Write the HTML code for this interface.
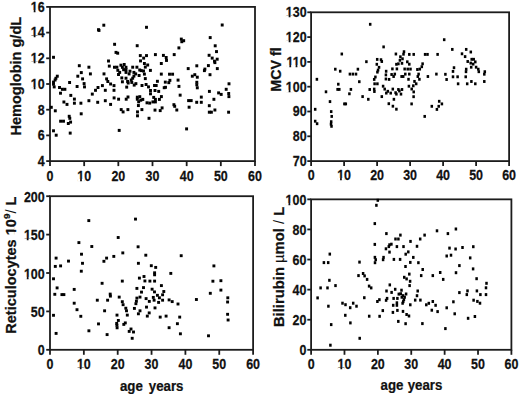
<!DOCTYPE html>
<html><head><meta charset="utf-8"><title>Hematology scatter plots by age</title><style>
html,body{margin:0;padding:0;background:#fff;}
svg{display:block;}
.tk{font-family:"Liberation Sans",sans-serif;font-weight:bold;font-size:14px;fill:#111;stroke:#111;stroke-width:0.25px;}
.al{font-family:"Liberation Sans",sans-serif;font-weight:bold;fill:#111;stroke:#111;stroke-width:0.25px;}
</style></head><body>
<svg width="520" height="396" viewBox="0 0 520 396">
<rect x="0" y="0" width="520" height="396" fill="#fff"/>
<g stroke="#1c1c1c" stroke-width="1.8" fill="none">
<rect x="50.00" y="6.90" width="205.00" height="154.20"/>
<line x1="46.20" y1="161.10" x2="50.00" y2="161.10"/>
<line x1="46.20" y1="135.40" x2="50.00" y2="135.40"/>
<line x1="46.20" y1="109.70" x2="50.00" y2="109.70"/>
<line x1="46.20" y1="84.00" x2="50.00" y2="84.00"/>
<line x1="46.20" y1="58.30" x2="50.00" y2="58.30"/>
<line x1="46.20" y1="32.60" x2="50.00" y2="32.60"/>
<line x1="46.20" y1="6.90" x2="50.00" y2="6.90"/>
<line x1="50.00" y1="161.10" x2="50.00" y2="166.10"/>
<line x1="84.17" y1="161.10" x2="84.17" y2="166.10"/>
<line x1="118.33" y1="161.10" x2="118.33" y2="166.10"/>
<line x1="152.50" y1="161.10" x2="152.50" y2="166.10"/>
<line x1="186.67" y1="161.10" x2="186.67" y2="166.10"/>
<line x1="220.83" y1="161.10" x2="220.83" y2="166.10"/>
<line x1="255.00" y1="161.10" x2="255.00" y2="166.10"/>
<rect x="311.10" y="12.30" width="198.00" height="148.80"/>
<line x1="307.30" y1="161.10" x2="311.10" y2="161.10"/>
<line x1="307.30" y1="136.30" x2="311.10" y2="136.30"/>
<line x1="307.30" y1="111.50" x2="311.10" y2="111.50"/>
<line x1="307.30" y1="86.70" x2="311.10" y2="86.70"/>
<line x1="307.30" y1="61.90" x2="311.10" y2="61.90"/>
<line x1="307.30" y1="37.10" x2="311.10" y2="37.10"/>
<line x1="307.30" y1="12.30" x2="311.10" y2="12.30"/>
<line x1="311.10" y1="161.10" x2="311.10" y2="166.10"/>
<line x1="344.10" y1="161.10" x2="344.10" y2="166.10"/>
<line x1="377.10" y1="161.10" x2="377.10" y2="166.10"/>
<line x1="410.10" y1="161.10" x2="410.10" y2="166.10"/>
<line x1="443.10" y1="161.10" x2="443.10" y2="166.10"/>
<line x1="476.10" y1="161.10" x2="476.10" y2="166.10"/>
<line x1="509.10" y1="161.10" x2="509.10" y2="166.10"/>
<rect x="50.00" y="196.20" width="203.10" height="153.60"/>
<line x1="46.20" y1="349.80" x2="50.00" y2="349.80"/>
<line x1="46.20" y1="311.40" x2="50.00" y2="311.40"/>
<line x1="46.20" y1="273.00" x2="50.00" y2="273.00"/>
<line x1="46.20" y1="234.60" x2="50.00" y2="234.60"/>
<line x1="46.20" y1="196.20" x2="50.00" y2="196.20"/>
<line x1="50.00" y1="349.80" x2="50.00" y2="354.80"/>
<line x1="83.85" y1="349.80" x2="83.85" y2="354.80"/>
<line x1="117.70" y1="349.80" x2="117.70" y2="354.80"/>
<line x1="151.55" y1="349.80" x2="151.55" y2="354.80"/>
<line x1="185.40" y1="349.80" x2="185.40" y2="354.80"/>
<line x1="219.25" y1="349.80" x2="219.25" y2="354.80"/>
<line x1="253.10" y1="349.80" x2="253.10" y2="354.80"/>
<rect x="311.10" y="199.35" width="200.30" height="150.45"/>
<line x1="307.30" y1="349.80" x2="311.10" y2="349.80"/>
<line x1="307.30" y1="319.71" x2="311.10" y2="319.71"/>
<line x1="307.30" y1="289.62" x2="311.10" y2="289.62"/>
<line x1="307.30" y1="259.53" x2="311.10" y2="259.53"/>
<line x1="307.30" y1="229.44" x2="311.10" y2="229.44"/>
<line x1="307.30" y1="199.35" x2="311.10" y2="199.35"/>
<line x1="311.10" y1="349.80" x2="311.10" y2="354.80"/>
<line x1="344.48" y1="349.80" x2="344.48" y2="354.80"/>
<line x1="377.87" y1="349.80" x2="377.87" y2="354.80"/>
<line x1="411.25" y1="349.80" x2="411.25" y2="354.80"/>
<line x1="444.63" y1="349.80" x2="444.63" y2="354.80"/>
<line x1="478.02" y1="349.80" x2="478.02" y2="354.80"/>
<line x1="511.40" y1="349.80" x2="511.40" y2="354.80"/>
</g>
<g>
<text class="tk" transform="translate(44.70,165.95) scale(0.89,1)" text-anchor="end">4</text>
<text class="tk" transform="translate(44.70,140.25) scale(0.89,1)" text-anchor="end">6</text>
<text class="tk" transform="translate(44.70,114.55) scale(0.89,1)" text-anchor="end">8</text>
<text class="tk" transform="translate(44.70,88.85) scale(0.89,1)" text-anchor="end">10</text>
<text class="tk" transform="translate(44.70,63.15) scale(0.89,1)" text-anchor="end">12</text>
<text class="tk" transform="translate(44.70,37.45) scale(0.89,1)" text-anchor="end">14</text>
<text class="tk" transform="translate(44.70,11.75) scale(0.89,1)" text-anchor="end">16</text>
<text class="tk" transform="translate(50.00,180.70) scale(0.89,1)" text-anchor="middle">0</text>
<text class="tk" transform="translate(84.17,180.70) scale(0.89,1)" text-anchor="middle">10</text>
<text class="tk" transform="translate(118.33,180.70) scale(0.89,1)" text-anchor="middle">20</text>
<text class="tk" transform="translate(152.50,180.70) scale(0.89,1)" text-anchor="middle">30</text>
<text class="tk" transform="translate(186.67,180.70) scale(0.89,1)" text-anchor="middle">40</text>
<text class="tk" transform="translate(220.83,180.70) scale(0.89,1)" text-anchor="middle">50</text>
<text class="tk" transform="translate(255.00,180.70) scale(0.89,1)" text-anchor="middle">60</text>
<text class="tk" transform="translate(306.60,165.95) scale(0.89,1)" text-anchor="end">70</text>
<text class="tk" transform="translate(306.60,141.15) scale(0.89,1)" text-anchor="end">80</text>
<text class="tk" transform="translate(306.60,116.35) scale(0.89,1)" text-anchor="end">90</text>
<text class="tk" transform="translate(306.60,91.55) scale(0.89,1)" text-anchor="end">100</text>
<text class="tk" transform="translate(306.60,66.75) scale(0.89,1)" text-anchor="end">110</text>
<text class="tk" transform="translate(306.60,41.95) scale(0.89,1)" text-anchor="end">120</text>
<text class="tk" transform="translate(306.60,17.15) scale(0.89,1)" text-anchor="end">130</text>
<text class="tk" transform="translate(311.10,179.70) scale(0.89,1)" text-anchor="middle">0</text>
<text class="tk" transform="translate(344.10,179.70) scale(0.89,1)" text-anchor="middle">10</text>
<text class="tk" transform="translate(377.10,179.70) scale(0.89,1)" text-anchor="middle">20</text>
<text class="tk" transform="translate(410.10,179.70) scale(0.89,1)" text-anchor="middle">30</text>
<text class="tk" transform="translate(443.10,179.70) scale(0.89,1)" text-anchor="middle">40</text>
<text class="tk" transform="translate(476.10,179.70) scale(0.89,1)" text-anchor="middle">50</text>
<text class="tk" transform="translate(509.10,179.70) scale(0.89,1)" text-anchor="middle">60</text>
<text class="tk" transform="translate(44.70,355.45) scale(0.89,1)" text-anchor="end">0</text>
<text class="tk" transform="translate(44.70,317.05) scale(0.89,1)" text-anchor="end">50</text>
<text class="tk" transform="translate(44.70,278.65) scale(0.89,1)" text-anchor="end">100</text>
<text class="tk" transform="translate(44.70,240.25) scale(0.89,1)" text-anchor="end">150</text>
<text class="tk" transform="translate(44.70,201.85) scale(0.89,1)" text-anchor="end">200</text>
<text class="tk" transform="translate(50.00,369.40) scale(0.89,1)" text-anchor="middle">0</text>
<text class="tk" transform="translate(83.85,369.40) scale(0.89,1)" text-anchor="middle">10</text>
<text class="tk" transform="translate(117.70,369.40) scale(0.89,1)" text-anchor="middle">20</text>
<text class="tk" transform="translate(151.55,369.40) scale(0.89,1)" text-anchor="middle">30</text>
<text class="tk" transform="translate(185.40,369.40) scale(0.89,1)" text-anchor="middle">40</text>
<text class="tk" transform="translate(219.25,369.40) scale(0.89,1)" text-anchor="middle">50</text>
<text class="tk" transform="translate(253.10,369.40) scale(0.89,1)" text-anchor="middle">60</text>
<text class="tk" transform="translate(306.40,355.15) scale(0.89,1)" text-anchor="end">0</text>
<text class="tk" transform="translate(306.40,325.06) scale(0.89,1)" text-anchor="end">20</text>
<text class="tk" transform="translate(306.40,294.97) scale(0.89,1)" text-anchor="end">40</text>
<text class="tk" transform="translate(306.40,264.88) scale(0.89,1)" text-anchor="end">60</text>
<text class="tk" transform="translate(306.40,234.79) scale(0.89,1)" text-anchor="end">80</text>
<text class="tk" transform="translate(306.40,204.70) scale(0.89,1)" text-anchor="end">100</text>
<text class="tk" transform="translate(311.10,369.40) scale(0.89,1)" text-anchor="middle">0</text>
<text class="tk" transform="translate(344.48,369.40) scale(0.89,1)" text-anchor="middle">10</text>
<text class="tk" transform="translate(377.87,369.40) scale(0.89,1)" text-anchor="middle">20</text>
<text class="tk" transform="translate(411.25,369.40) scale(0.89,1)" text-anchor="middle">30</text>
<text class="tk" transform="translate(444.63,369.40) scale(0.89,1)" text-anchor="middle">40</text>
<text class="tk" transform="translate(478.02,369.40) scale(0.89,1)" text-anchor="middle">50</text>
<text class="tk" transform="translate(511.40,369.40) scale(0.89,1)" text-anchor="middle">60</text>
<text class="al" font-size="14.7" transform="translate(21.3,76.2) rotate(-90) scale(0.99,1)" text-anchor="middle">Hemoglobin g/dL</text>
<text class="al" font-size="13.8" transform="translate(280.9,69.55) rotate(-90) scale(1.035,1)" text-anchor="middle">MCV fl</text>
<text class="al" font-size="14.2" transform="translate(15.9,265.15) rotate(-90) scale(1.023,1)" text-anchor="middle">Reticulocytes 10<tspan font-size="9.8" dy="-6.3">9</tspan><tspan dy="6.3" font-weight="normal" stroke-width="0">/</tspan> L</text>
<text class="al" font-size="14.8" transform="translate(283.5,266.9) rotate(-90) scale(1.0,1)" text-anchor="middle">Bilirubin <tspan font-weight="normal" stroke-width="0.15">µ</tspan>mol <tspan font-weight="normal" stroke-width="0">/</tspan> L</text>
<text class="al" font-size="15" transform="translate(119.95,391.2) scale(0.885,1)">age</text>
<text class="al" font-size="15" transform="translate(148.81,391.2) scale(0.885,1)">years</text>
<text class="al" font-size="15" transform="translate(380.55,390.4) scale(0.885,1)">age</text>
<text class="al" font-size="15" transform="translate(407.71,390.4) scale(0.885,1)">years</text>
</g>
<g fill="#fff">
<rect x="30.84" y="87.12" width="2.87" height="2.93"/>
<rect x="35.49" y="87.12" width="2.52" height="2.93"/>
<rect x="30.84" y="61.42" width="2.87" height="2.93"/>
<rect x="35.49" y="61.42" width="2.52" height="2.93"/>
<rect x="30.84" y="35.72" width="2.87" height="2.93"/>
<rect x="35.49" y="35.72" width="2.52" height="2.93"/>
<rect x="30.84" y="10.02" width="2.87" height="2.93"/>
<rect x="35.49" y="10.02" width="2.52" height="2.93"/>
<rect x="77.24" y="178.97" width="2.87" height="2.93"/>
<rect x="81.89" y="178.97" width="2.52" height="2.93"/>
<rect x="285.81" y="89.82" width="2.87" height="2.93"/>
<rect x="290.47" y="89.82" width="2.52" height="2.93"/>
<rect x="286.50" y="65.02" width="2.87" height="2.93"/>
<rect x="291.15" y="65.02" width="2.52" height="2.93"/>
<rect x="292.74" y="65.02" width="2.87" height="2.93"/>
<rect x="297.39" y="65.02" width="2.52" height="2.93"/>
<rect x="285.81" y="40.22" width="2.87" height="2.93"/>
<rect x="290.47" y="40.22" width="2.52" height="2.93"/>
<rect x="285.81" y="15.42" width="2.87" height="2.93"/>
<rect x="290.47" y="15.42" width="2.52" height="2.93"/>
<rect x="337.17" y="177.97" width="2.87" height="2.93"/>
<rect x="341.82" y="177.97" width="2.52" height="2.93"/>
<rect x="23.91" y="276.92" width="2.87" height="2.93"/>
<rect x="28.57" y="276.92" width="2.52" height="2.93"/>
<rect x="23.91" y="238.52" width="2.87" height="2.93"/>
<rect x="28.57" y="238.52" width="2.52" height="2.93"/>
<rect x="76.92" y="367.67" width="2.87" height="2.93"/>
<rect x="81.57" y="367.67" width="2.52" height="2.93"/>
<rect x="285.61" y="202.97" width="2.87" height="2.93"/>
<rect x="290.27" y="202.97" width="2.52" height="2.93"/>
<rect x="337.55" y="367.67" width="2.87" height="2.93"/>
<rect x="342.21" y="367.67" width="2.52" height="2.93"/>
<rect transform="translate(15.9,265.15) rotate(-90) scale(1.023,1)" x="29.21" y="-1.75" width="3.27" height="2.95"/>
<rect transform="translate(15.9,265.15) rotate(-90) scale(1.023,1)" x="34.51" y="-1.75" width="2.88" height="2.95"/>
</g>
<g fill="#000">
<rect x="102.35" y="23.70" width="2.9" height="3.0"/>
<rect x="113.15" y="42.80" width="2.9" height="3.0"/>
<rect x="114.55" y="50.90" width="2.9" height="3.0"/>
<rect x="116.25" y="51.70" width="2.9" height="3.0"/>
<rect x="52.05" y="55.80" width="2.9" height="3.0"/>
<rect x="145.05" y="25.80" width="2.9" height="3.0"/>
<rect x="135.75" y="44.20" width="2.9" height="3.0"/>
<rect x="179.85" y="37.60" width="2.9" height="3.0"/>
<rect x="180.35" y="40.20" width="2.9" height="3.0"/>
<rect x="177.45" y="46.40" width="2.9" height="3.0"/>
<rect x="172.75" y="53.10" width="2.9" height="3.0"/>
<rect x="153.95" y="53.10" width="2.9" height="3.0"/>
<rect x="161.95" y="53.90" width="2.9" height="3.0"/>
<rect x="164.75" y="56.00" width="2.9" height="3.0"/>
<rect x="165.05" y="58.93" width="2.9" height="3.0"/>
<rect x="138.85" y="54.10" width="2.9" height="3.0"/>
<rect x="142.20" y="56.60" width="2.9" height="3.0"/>
<rect x="145.05" y="54.10" width="2.9" height="3.0"/>
<rect x="139.08" y="59.40" width="2.9" height="3.0"/>
<rect x="220.75" y="23.50" width="2.9" height="3.0"/>
<rect x="208.75" y="36.10" width="2.9" height="3.0"/>
<rect x="182.25" y="39.20" width="2.9" height="3.0"/>
<rect x="213.75" y="44.30" width="2.9" height="3.0"/>
<rect x="215.05" y="50.10" width="2.9" height="3.0"/>
<rect x="207.65" y="53.80" width="2.9" height="3.0"/>
<rect x="210.75" y="56.60" width="2.9" height="3.0"/>
<rect x="215.75" y="57.70" width="2.9" height="3.0"/>
<rect x="213.05" y="59.70" width="2.9" height="3.0"/>
<rect x="107.05" y="59.50" width="2.9" height="3.0"/>
<rect x="107.85" y="64.60" width="2.9" height="3.0"/>
<rect x="113.00" y="65.75" width="2.9" height="3.0"/>
<rect x="77.85" y="64.20" width="2.9" height="3.0"/>
<rect x="87.45" y="65.70" width="2.9" height="3.0"/>
<rect x="79.85" y="71.10" width="2.9" height="3.0"/>
<rect x="88.95" y="72.40" width="2.9" height="3.0"/>
<rect x="102.55" y="72.40" width="2.9" height="3.0"/>
<rect x="76.35" y="74.70" width="2.9" height="3.0"/>
<rect x="81.15" y="77.40" width="2.9" height="3.0"/>
<rect x="55.85" y="74.70" width="2.9" height="3.0"/>
<rect x="54.45" y="76.80" width="2.9" height="3.0"/>
<rect x="53.65" y="78.50" width="2.9" height="3.0"/>
<rect x="52.05" y="80.60" width="2.9" height="3.0"/>
<rect x="52.05" y="82.70" width="2.9" height="3.0"/>
<rect x="52.75" y="85.40" width="2.9" height="3.0"/>
<rect x="68.15" y="81.00" width="2.9" height="3.0"/>
<rect x="82.65" y="82.10" width="2.9" height="3.0"/>
<rect x="83.05" y="85.40" width="2.9" height="3.0"/>
<rect x="75.65" y="85.00" width="2.9" height="3.0"/>
<rect x="105.15" y="77.40" width="2.9" height="3.0"/>
<rect x="106.35" y="80.00" width="2.9" height="3.0"/>
<rect x="109.15" y="82.50" width="2.9" height="3.0"/>
<rect x="100.95" y="84.10" width="2.9" height="3.0"/>
<rect x="96.55" y="86.00" width="2.9" height="3.0"/>
<rect x="94.05" y="88.80" width="2.9" height="3.0"/>
<rect x="103.85" y="88.80" width="2.9" height="3.0"/>
<rect x="112.55" y="84.10" width="2.9" height="3.0"/>
<rect x="112.55" y="88.80" width="2.9" height="3.0"/>
<rect x="58.05" y="86.00" width="2.9" height="3.0"/>
<rect x="60.95" y="87.80" width="2.9" height="3.0"/>
<rect x="63.45" y="87.80" width="2.9" height="3.0"/>
<rect x="59.05" y="91.70" width="2.9" height="3.0"/>
<rect x="69.35" y="93.90" width="2.9" height="3.0"/>
<rect x="90.85" y="92.60" width="2.9" height="3.0"/>
<rect x="72.95" y="97.60" width="2.9" height="3.0"/>
<rect x="112.65" y="96.40" width="2.9" height="3.0"/>
<rect x="62.45" y="100.50" width="2.9" height="3.0"/>
<rect x="65.55" y="102.90" width="2.9" height="3.0"/>
<rect x="72.95" y="101.70" width="2.9" height="3.0"/>
<rect x="79.45" y="101.70" width="2.9" height="3.0"/>
<rect x="87.45" y="99.20" width="2.9" height="3.0"/>
<rect x="96.25" y="100.80" width="2.9" height="3.0"/>
<rect x="103.85" y="99.20" width="2.9" height="3.0"/>
<rect x="109.15" y="102.90" width="2.9" height="3.0"/>
<rect x="49.85" y="105.80" width="2.9" height="3.0"/>
<rect x="53.85" y="109.30" width="2.9" height="3.0"/>
<rect x="115.45" y="65.70" width="2.9" height="3.0"/>
<rect x="116.35" y="68.80" width="2.9" height="3.0"/>
<rect x="119.45" y="63.70" width="2.9" height="3.0"/>
<rect x="122.75" y="63.00" width="2.9" height="3.0"/>
<rect x="120.95" y="65.80" width="2.9" height="3.0"/>
<rect x="124.55" y="65.80" width="2.9" height="3.0"/>
<rect x="122.15" y="68.20" width="2.9" height="3.0"/>
<rect x="124.55" y="68.20" width="2.9" height="3.0"/>
<rect x="118.25" y="70.90" width="2.9" height="3.0"/>
<rect x="117.05" y="73.00" width="2.9" height="3.0"/>
<rect x="124.55" y="70.90" width="2.9" height="3.0"/>
<rect x="127.65" y="72.40" width="2.9" height="3.0"/>
<rect x="128.55" y="69.70" width="2.9" height="3.0"/>
<rect x="131.25" y="65.70" width="2.9" height="3.0"/>
<rect x="135.45" y="65.70" width="2.9" height="3.0"/>
<rect x="138.25" y="68.50" width="2.9" height="3.0"/>
<rect x="139.75" y="69.10" width="2.9" height="3.0"/>
<rect x="132.45" y="70.90" width="2.9" height="3.0"/>
<rect x="134.25" y="72.40" width="2.9" height="3.0"/>
<rect x="137.65" y="74.00" width="2.9" height="3.0"/>
<rect x="132.45" y="74.60" width="2.9" height="3.0"/>
<rect x="120.35" y="76.40" width="2.9" height="3.0"/>
<rect x="124.55" y="76.70" width="2.9" height="3.0"/>
<rect x="129.75" y="78.50" width="2.9" height="3.0"/>
<rect x="131.25" y="76.70" width="2.9" height="3.0"/>
<rect x="120.95" y="80.30" width="2.9" height="3.0"/>
<rect x="126.15" y="79.95" width="2.9" height="3.0"/>
<rect x="126.75" y="81.50" width="2.9" height="3.0"/>
<rect x="130.35" y="80.90" width="2.9" height="3.0"/>
<rect x="134.45" y="82.15" width="2.9" height="3.0"/>
<rect x="142.95" y="62.00" width="2.9" height="3.0"/>
<rect x="146.25" y="63.50" width="2.9" height="3.0"/>
<rect x="143.85" y="65.60" width="2.9" height="3.0"/>
<rect x="148.95" y="68.90" width="2.9" height="3.0"/>
<rect x="142.05" y="69.50" width="2.9" height="3.0"/>
<rect x="142.95" y="72.60" width="2.9" height="3.0"/>
<rect x="143.85" y="77.10" width="2.9" height="3.0"/>
<rect x="159.85" y="62.00" width="2.9" height="3.0"/>
<rect x="159.85" y="72.60" width="2.9" height="3.0"/>
<rect x="155.95" y="79.80" width="2.9" height="3.0"/>
<rect x="163.85" y="80.63" width="2.9" height="3.0"/>
<rect x="140.55" y="84.00" width="2.9" height="3.0"/>
<rect x="144.65" y="83.00" width="2.9" height="3.0"/>
<rect x="147.05" y="85.40" width="2.9" height="3.0"/>
<rect x="153.05" y="84.00" width="2.9" height="3.0"/>
<rect x="154.75" y="84.00" width="2.9" height="3.0"/>
<rect x="167.35" y="81.15" width="2.9" height="3.0"/>
<rect x="168.45" y="78.85" width="2.9" height="3.0"/>
<rect x="176.60" y="78.60" width="2.9" height="3.0"/>
<rect x="162.75" y="86.20" width="2.9" height="3.0"/>
<rect x="177.50" y="84.90" width="2.9" height="3.0"/>
<rect x="149.05" y="89.00" width="2.9" height="3.0"/>
<rect x="149.05" y="92.30" width="2.9" height="3.0"/>
<rect x="153.55" y="89.00" width="2.9" height="3.0"/>
<rect x="157.25" y="89.90" width="2.9" height="3.0"/>
<rect x="159.95" y="95.10" width="2.9" height="3.0"/>
<rect x="157.95" y="97.90" width="2.9" height="3.0"/>
<rect x="152.25" y="95.90" width="2.9" height="3.0"/>
<rect x="153.95" y="97.90" width="2.9" height="3.0"/>
<rect x="151.45" y="100.40" width="2.9" height="3.0"/>
<rect x="153.95" y="100.40" width="2.9" height="3.0"/>
<rect x="145.55" y="101.30" width="2.9" height="3.0"/>
<rect x="148.25" y="101.60" width="2.9" height="3.0"/>
<rect x="141.35" y="97.90" width="2.9" height="3.0"/>
<rect x="139.35" y="98.70" width="2.9" height="3.0"/>
<rect x="172.45" y="103.20" width="2.9" height="3.0"/>
<rect x="173.25" y="104.80" width="2.9" height="3.0"/>
<rect x="178.70" y="93.65" width="2.9" height="3.0"/>
<rect x="160.65" y="106.40" width="2.9" height="3.0"/>
<rect x="186.75" y="67.10" width="2.9" height="3.0"/>
<rect x="195.35" y="64.30" width="2.9" height="3.0"/>
<rect x="206.95" y="64.10" width="2.9" height="3.0"/>
<rect x="203.45" y="67.60" width="2.9" height="3.0"/>
<rect x="202.95" y="69.10" width="2.9" height="3.0"/>
<rect x="168.05" y="72.70" width="2.9" height="3.0"/>
<rect x="171.15" y="72.70" width="2.9" height="3.0"/>
<rect x="208.55" y="73.20" width="2.9" height="3.0"/>
<rect x="190.85" y="74.70" width="2.9" height="3.0"/>
<rect x="193.35" y="73.20" width="2.9" height="3.0"/>
<rect x="195.85" y="75.70" width="2.9" height="3.0"/>
<rect x="195.35" y="80.80" width="2.9" height="3.0"/>
<rect x="195.35" y="83.30" width="2.9" height="3.0"/>
<rect x="195.85" y="86.30" width="2.9" height="3.0"/>
<rect x="164.05" y="85.80" width="2.9" height="3.0"/>
<rect x="207.95" y="89.90" width="2.9" height="3.0"/>
<rect x="213.45" y="61.10" width="2.9" height="3.0"/>
<rect x="215.85" y="67.10" width="2.9" height="3.0"/>
<rect x="227.55" y="82.30" width="2.9" height="3.0"/>
<rect x="224.75" y="87.80" width="2.9" height="3.0"/>
<rect x="217.15" y="91.40" width="2.9" height="3.0"/>
<rect x="219.75" y="92.90" width="2.9" height="3.0"/>
<rect x="227.25" y="92.00" width="2.9" height="3.0"/>
<rect x="227.45" y="95.10" width="2.9" height="3.0"/>
<rect x="199.85" y="95.60" width="2.9" height="3.0"/>
<rect x="187.15" y="99.10" width="2.9" height="3.0"/>
<rect x="189.75" y="99.10" width="2.9" height="3.0"/>
<rect x="195.25" y="100.80" width="2.9" height="3.0"/>
<rect x="199.85" y="100.80" width="2.9" height="3.0"/>
<rect x="212.45" y="97.80" width="2.9" height="3.0"/>
<rect x="187.65" y="105.70" width="2.9" height="3.0"/>
<rect x="207.85" y="104.20" width="2.9" height="3.0"/>
<rect x="213.45" y="108.50" width="2.9" height="3.0"/>
<rect x="207.85" y="110.70" width="2.9" height="3.0"/>
<rect x="209.95" y="110.70" width="2.9" height="3.0"/>
<rect x="175.35" y="108.50" width="2.9" height="3.0"/>
<rect x="185.15" y="127.40" width="2.9" height="3.0"/>
<rect x="227.15" y="110.70" width="2.9" height="3.0"/>
<rect x="79.75" y="112.30" width="2.9" height="3.0"/>
<rect x="67.75" y="114.80" width="2.9" height="3.0"/>
<rect x="68.35" y="116.80" width="2.9" height="3.0"/>
<rect x="59.15" y="119.70" width="2.9" height="3.0"/>
<rect x="62.05" y="119.70" width="2.9" height="3.0"/>
<rect x="66.85" y="122.00" width="2.9" height="3.0"/>
<rect x="69.15" y="120.60" width="2.9" height="3.0"/>
<rect x="52.05" y="129.30" width="2.9" height="3.0"/>
<rect x="54.75" y="133.70" width="2.9" height="3.0"/>
<rect x="68.75" y="131.60" width="2.9" height="3.0"/>
<rect x="117.75" y="128.90" width="2.9" height="3.0"/>
<rect x="119.75" y="108.10" width="2.9" height="3.0"/>
<rect x="121.65" y="110.40" width="2.9" height="3.0"/>
<rect x="126.45" y="108.10" width="2.9" height="3.0"/>
<rect x="136.05" y="110.40" width="2.9" height="3.0"/>
<rect x="136.05" y="114.30" width="2.9" height="3.0"/>
<rect x="140.45" y="108.10" width="2.9" height="3.0"/>
<rect x="137.20" y="100.30" width="2.9" height="3.0"/>
<rect x="136.95" y="104.05" width="2.9" height="3.0"/>
<rect x="147.55" y="116.80" width="2.9" height="3.0"/>
<rect x="125.25" y="85.60" width="2.9" height="3.0"/>
<rect x="132.75" y="83.60" width="2.9" height="3.0"/>
<rect x="117.15" y="97.70" width="2.9" height="3.0"/>
<rect x="124.75" y="97.70" width="2.9" height="3.0"/>
<rect x="126.55" y="95.50" width="2.9" height="3.0"/>
<rect x="135.85" y="95.70" width="2.9" height="3.0"/>
<rect x="138.35" y="95.20" width="2.9" height="3.0"/>
<rect x="135.85" y="97.70" width="2.9" height="3.0"/>
<rect x="153.55" y="108.60" width="2.9" height="3.0"/>
<rect x="158.75" y="109.10" width="2.9" height="3.0"/>
<rect x="97.05" y="28.20" width="2.9" height="3.0"/>
<rect x="97.55" y="28.90" width="2.9" height="3.0"/>
<rect x="368.95" y="22.85" width="2.5" height="2.9"/>
<rect x="382.35" y="45.45" width="2.5" height="2.9"/>
<rect x="340.55" y="52.55" width="2.5" height="2.9"/>
<rect x="365.15" y="60.25" width="2.5" height="2.9"/>
<rect x="375.95" y="57.95" width="2.5" height="2.9"/>
<rect x="379.75" y="58.25" width="2.5" height="2.9"/>
<rect x="380.55" y="60.05" width="2.5" height="2.9"/>
<rect x="375.55" y="62.85" width="2.5" height="2.9"/>
<rect x="377.80" y="65.90" width="2.5" height="2.9"/>
<rect x="376.80" y="68.65" width="2.5" height="2.9"/>
<rect x="334.05" y="67.75" width="2.5" height="2.9"/>
<rect x="338.95" y="69.75" width="2.5" height="2.9"/>
<rect x="356.65" y="67.75" width="2.5" height="2.9"/>
<rect x="384.90" y="69.80" width="2.5" height="2.9"/>
<rect x="348.65" y="72.65" width="2.5" height="2.9"/>
<rect x="351.65" y="72.65" width="2.5" height="2.9"/>
<rect x="354.75" y="72.65" width="2.5" height="2.9"/>
<rect x="315.65" y="77.85" width="2.5" height="2.9"/>
<rect x="358.05" y="80.25" width="2.5" height="2.9"/>
<rect x="337.05" y="82.75" width="2.5" height="2.9"/>
<rect x="336.35" y="87.95" width="2.5" height="2.9"/>
<rect x="338.05" y="87.95" width="2.5" height="2.9"/>
<rect x="349.65" y="87.95" width="2.5" height="2.9"/>
<rect x="324.75" y="90.35" width="2.5" height="2.9"/>
<rect x="348.15" y="92.35" width="2.5" height="2.9"/>
<rect x="328.75" y="100.15" width="2.5" height="2.9"/>
<rect x="313.95" y="107.85" width="2.5" height="2.9"/>
<rect x="329.95" y="110.15" width="2.5" height="2.9"/>
<rect x="330.45" y="114.95" width="2.5" height="2.9"/>
<rect x="313.95" y="119.75" width="2.5" height="2.9"/>
<rect x="315.85" y="122.25" width="2.5" height="2.9"/>
<rect x="329.95" y="120.25" width="2.5" height="2.9"/>
<rect x="329.75" y="122.75" width="2.5" height="2.9"/>
<rect x="330.25" y="124.85" width="2.5" height="2.9"/>
<rect x="394.65" y="52.55" width="2.5" height="2.9"/>
<rect x="402.75" y="50.25" width="2.5" height="2.9"/>
<rect x="402.25" y="52.75" width="2.5" height="2.9"/>
<rect x="399.15" y="55.35" width="2.5" height="2.9"/>
<rect x="401.25" y="57.35" width="2.5" height="2.9"/>
<rect x="398.65" y="58.85" width="2.5" height="2.9"/>
<rect x="395.15" y="62.85" width="2.5" height="2.9"/>
<rect x="397.15" y="62.35" width="2.5" height="2.9"/>
<rect x="400.75" y="61.85" width="2.5" height="2.9"/>
<rect x="391.15" y="67.45" width="2.5" height="2.9"/>
<rect x="395.65" y="67.45" width="2.5" height="2.9"/>
<rect x="403.40" y="67.55" width="2.5" height="2.9"/>
<rect x="376.15" y="70.65" width="2.5" height="2.9"/>
<rect x="384.65" y="73.45" width="2.5" height="2.9"/>
<rect x="384.65" y="77.55" width="2.5" height="2.9"/>
<rect x="387.85" y="77.95" width="2.5" height="2.9"/>
<rect x="390.35" y="73.05" width="2.5" height="2.9"/>
<rect x="392.35" y="75.05" width="2.5" height="2.9"/>
<rect x="393.55" y="72.65" width="2.5" height="2.9"/>
<rect x="374.15" y="75.55" width="2.5" height="2.9"/>
<rect x="372.95" y="77.95" width="2.5" height="2.9"/>
<rect x="373.35" y="82.35" width="2.5" height="2.9"/>
<rect x="376.15" y="82.35" width="2.5" height="2.9"/>
<rect x="381.85" y="84.75" width="2.5" height="2.9"/>
<rect x="383.45" y="87.65" width="2.5" height="2.9"/>
<rect x="368.45" y="88.05" width="2.5" height="2.9"/>
<rect x="372.95" y="87.65" width="2.5" height="2.9"/>
<rect x="373.15" y="90.05" width="2.5" height="2.9"/>
<rect x="386.55" y="89.85" width="2.5" height="2.9"/>
<rect x="385.05" y="91.65" width="2.5" height="2.9"/>
<rect x="391.55" y="87.65" width="2.5" height="2.9"/>
<rect x="389.45" y="91.65" width="2.5" height="2.9"/>
<rect x="394.35" y="91.25" width="2.5" height="2.9"/>
<rect x="395.15" y="92.65" width="2.5" height="2.9"/>
<rect x="397.15" y="88.05" width="2.5" height="2.9"/>
<rect x="398.15" y="89.55" width="2.5" height="2.9"/>
<rect x="400.75" y="88.05" width="2.5" height="2.9"/>
<rect x="399.75" y="92.65" width="2.5" height="2.9"/>
<rect x="361.35" y="95.15" width="2.5" height="2.9"/>
<rect x="367.05" y="97.85" width="2.5" height="2.9"/>
<rect x="380.55" y="95.15" width="2.5" height="2.9"/>
<rect x="392.65" y="97.85" width="2.5" height="2.9"/>
<rect x="387.55" y="102.25" width="2.5" height="2.9"/>
<rect x="391.65" y="104.75" width="2.5" height="2.9"/>
<rect x="395.15" y="107.75" width="2.5" height="2.9"/>
<rect x="408.05" y="52.95" width="2.5" height="2.9"/>
<rect x="412.45" y="52.95" width="2.5" height="2.9"/>
<rect x="423.85" y="52.95" width="2.5" height="2.9"/>
<rect x="426.25" y="52.95" width="2.5" height="2.9"/>
<rect x="436.35" y="52.95" width="2.5" height="2.9"/>
<rect x="406.05" y="60.35" width="2.5" height="2.9"/>
<rect x="408.05" y="62.75" width="2.5" height="2.9"/>
<rect x="421.35" y="62.35" width="2.5" height="2.9"/>
<rect x="420.55" y="65.25" width="2.5" height="2.9"/>
<rect x="406.45" y="67.65" width="2.5" height="2.9"/>
<rect x="409.25" y="67.65" width="2.5" height="2.9"/>
<rect x="416.15" y="68.05" width="2.5" height="2.9"/>
<rect x="418.55" y="67.65" width="2.5" height="2.9"/>
<rect x="404.05" y="72.65" width="2.5" height="2.9"/>
<rect x="408.05" y="72.65" width="2.5" height="2.9"/>
<rect x="417.35" y="72.65" width="2.5" height="2.9"/>
<rect x="416.55" y="75.05" width="2.5" height="2.9"/>
<rect x="418.15" y="77.85" width="2.5" height="2.9"/>
<rect x="400.35" y="75.05" width="2.5" height="2.9"/>
<rect x="401.95" y="75.05" width="2.5" height="2.9"/>
<rect x="407.25" y="77.85" width="2.5" height="2.9"/>
<rect x="413.25" y="79.95" width="2.5" height="2.9"/>
<rect x="414.95" y="82.35" width="2.5" height="2.9"/>
<rect x="426.65" y="75.05" width="2.5" height="2.9"/>
<rect x="435.15" y="72.65" width="2.5" height="2.9"/>
<rect x="407.65" y="84.75" width="2.5" height="2.9"/>
<rect x="412.05" y="84.35" width="2.5" height="2.9"/>
<rect x="410.45" y="87.55" width="2.5" height="2.9"/>
<rect x="412.45" y="90.45" width="2.5" height="2.9"/>
<rect x="412.35" y="95.25" width="2.5" height="2.9"/>
<rect x="410.35" y="102.45" width="2.5" height="2.9"/>
<rect x="430.55" y="104.85" width="2.5" height="2.9"/>
<rect x="437.95" y="99.85" width="2.5" height="2.9"/>
<rect x="440.65" y="102.45" width="2.5" height="2.9"/>
<rect x="437.45" y="104.85" width="2.5" height="2.9"/>
<rect x="435.65" y="107.95" width="2.5" height="2.9"/>
<rect x="423.45" y="114.95" width="2.5" height="2.9"/>
<rect x="442.95" y="38.25" width="2.5" height="2.9"/>
<rect x="451.05" y="47.95" width="2.5" height="2.9"/>
<rect x="464.95" y="47.95" width="2.5" height="2.9"/>
<rect x="469.55" y="50.55" width="2.5" height="2.9"/>
<rect x="460.75" y="52.35" width="2.5" height="2.9"/>
<rect x="463.85" y="55.15" width="2.5" height="2.9"/>
<rect x="466.45" y="60.05" width="2.5" height="2.9"/>
<rect x="470.45" y="57.85" width="2.5" height="2.9"/>
<rect x="472.45" y="57.85" width="2.5" height="2.9"/>
<rect x="474.05" y="60.45" width="2.5" height="2.9"/>
<rect x="469.45" y="61.65" width="2.5" height="2.9"/>
<rect x="469.95" y="65.75" width="2.5" height="2.9"/>
<rect x="471.95" y="62.65" width="2.5" height="2.9"/>
<rect x="474.85" y="65.75" width="2.5" height="2.9"/>
<rect x="477.05" y="67.75" width="2.5" height="2.9"/>
<rect x="477.55" y="70.25" width="2.5" height="2.9"/>
<rect x="452.75" y="66.25" width="2.5" height="2.9"/>
<rect x="451.75" y="69.95" width="2.5" height="2.9"/>
<rect x="464.95" y="67.75" width="2.5" height="2.9"/>
<rect x="464.75" y="70.25" width="2.5" height="2.9"/>
<rect x="483.55" y="70.25" width="2.5" height="2.9"/>
<rect x="483.05" y="72.75" width="2.5" height="2.9"/>
<rect x="451.75" y="75.35" width="2.5" height="2.9"/>
<rect x="456.35" y="75.35" width="2.5" height="2.9"/>
<rect x="464.45" y="75.35" width="2.5" height="2.9"/>
<rect x="456.85" y="82.35" width="2.5" height="2.9"/>
<rect x="465.95" y="82.35" width="2.5" height="2.9"/>
<rect x="470.15" y="80.05" width="2.5" height="2.9"/>
<rect x="474.05" y="82.35" width="2.5" height="2.9"/>
<rect x="483.05" y="80.05" width="2.5" height="2.9"/>
<rect x="444.15" y="72.85" width="2.5" height="2.9"/>
<rect x="445.35" y="78.05" width="2.5" height="2.9"/>
<rect x="343.15" y="102.45" width="2.5" height="2.9"/>
<rect x="344.55" y="102.45" width="2.5" height="2.9"/>
<rect x="87.35" y="219.15" width="2.9" height="2.9"/>
<rect x="116.75" y="236.05" width="2.9" height="2.9"/>
<rect x="77.45" y="241.15" width="2.9" height="2.9"/>
<rect x="90.35" y="245.05" width="2.9" height="2.9"/>
<rect x="80.05" y="252.75" width="2.9" height="2.9"/>
<rect x="112.35" y="254.95" width="2.9" height="2.9"/>
<rect x="121.35" y="251.45" width="2.9" height="2.9"/>
<rect x="54.65" y="256.65" width="2.9" height="2.9"/>
<rect x="67.05" y="259.65" width="2.9" height="2.9"/>
<rect x="81.05" y="261.85" width="2.9" height="2.9"/>
<rect x="53.85" y="264.95" width="2.9" height="2.9"/>
<rect x="59.15" y="264.45" width="2.9" height="2.9"/>
<rect x="79.85" y="269.75" width="2.9" height="2.9"/>
<rect x="52.05" y="277.35" width="2.9" height="2.9"/>
<rect x="55.65" y="286.45" width="2.9" height="2.9"/>
<rect x="72.75" y="287.95" width="2.9" height="2.9"/>
<rect x="105.15" y="256.65" width="2.9" height="2.9"/>
<rect x="102.45" y="259.85" width="2.9" height="2.9"/>
<rect x="136.95" y="261.85" width="2.9" height="2.9"/>
<rect x="137.95" y="276.65" width="2.9" height="2.9"/>
<rect x="142.55" y="275.05" width="2.9" height="2.9"/>
<rect x="143.45" y="279.50" width="2.9" height="2.9"/>
<rect x="120.85" y="279.65" width="2.9" height="2.9"/>
<rect x="100.65" y="281.85" width="2.9" height="2.9"/>
<rect x="135.45" y="286.95" width="2.9" height="2.9"/>
<rect x="142.05" y="286.15" width="2.9" height="2.9"/>
<rect x="134.05" y="217.65" width="2.9" height="2.9"/>
<rect x="136.65" y="245.35" width="2.9" height="2.9"/>
<rect x="144.35" y="253.75" width="2.9" height="2.9"/>
<rect x="179.75" y="254.25" width="2.9" height="2.9"/>
<rect x="149.85" y="264.25" width="2.9" height="2.9"/>
<rect x="154.25" y="265.95" width="2.9" height="2.9"/>
<rect x="153.15" y="271.35" width="2.9" height="2.9"/>
<rect x="153.15" y="273.35" width="2.9" height="2.9"/>
<rect x="169.35" y="271.95" width="2.9" height="2.9"/>
<rect x="148.45" y="279.65" width="2.9" height="2.9"/>
<rect x="153.15" y="279.65" width="2.9" height="2.9"/>
<rect x="159.95" y="284.15" width="2.9" height="2.9"/>
<rect x="150.65" y="287.75" width="2.9" height="2.9"/>
<rect x="212.45" y="264.45" width="2.9" height="2.9"/>
<rect x="211.45" y="279.75" width="2.9" height="2.9"/>
<rect x="219.45" y="279.25" width="2.9" height="2.9"/>
<rect x="219.45" y="288.65" width="2.9" height="2.9"/>
<rect x="208.85" y="291.85" width="2.9" height="2.9"/>
<rect x="226.35" y="296.35" width="2.9" height="2.9"/>
<rect x="194.95" y="298.05" width="2.9" height="2.9"/>
<rect x="53.35" y="292.85" width="2.9" height="2.9"/>
<rect x="60.45" y="293.15" width="2.9" height="2.9"/>
<rect x="62.45" y="293.15" width="2.9" height="2.9"/>
<rect x="95.85" y="298.75" width="2.9" height="2.9"/>
<rect x="72.75" y="301.75" width="2.9" height="2.9"/>
<rect x="75.55" y="308.25" width="2.9" height="2.9"/>
<rect x="52.05" y="313.85" width="2.9" height="2.9"/>
<rect x="79.35" y="314.85" width="2.9" height="2.9"/>
<rect x="97.05" y="322.45" width="2.9" height="2.9"/>
<rect x="140.05" y="290.65" width="2.9" height="2.9"/>
<rect x="108.75" y="292.65" width="2.9" height="2.9"/>
<rect x="108.95" y="294.65" width="2.9" height="2.9"/>
<rect x="106.15" y="298.75" width="2.9" height="2.9"/>
<rect x="117.75" y="295.65" width="2.9" height="2.9"/>
<rect x="120.85" y="300.25" width="2.9" height="2.9"/>
<rect x="121.65" y="303.25" width="2.9" height="2.9"/>
<rect x="124.35" y="306.75" width="2.9" height="2.9"/>
<rect x="125.05" y="309.35" width="2.9" height="2.9"/>
<rect x="135.45" y="296.65" width="2.9" height="2.9"/>
<rect x="138.55" y="295.65" width="2.9" height="2.9"/>
<rect x="134.95" y="299.75" width="2.9" height="2.9"/>
<rect x="134.45" y="302.25" width="2.9" height="2.9"/>
<rect x="132.95" y="306.95" width="2.9" height="2.9"/>
<rect x="138.55" y="309.35" width="2.9" height="2.9"/>
<rect x="136.95" y="312.35" width="2.9" height="2.9"/>
<rect x="103.15" y="309.35" width="2.9" height="2.9"/>
<rect x="115.55" y="313.65" width="2.9" height="2.9"/>
<rect x="125.85" y="313.65" width="2.9" height="2.9"/>
<rect x="116.90" y="319.00" width="2.9" height="2.9"/>
<rect x="115.25" y="321.95" width="2.9" height="2.9"/>
<rect x="123.85" y="321.45" width="2.9" height="2.9"/>
<rect x="122.35" y="322.95" width="2.9" height="2.9"/>
<rect x="153.05" y="290.45" width="2.9" height="2.9"/>
<rect x="162.35" y="290.05" width="2.9" height="2.9"/>
<rect x="161.15" y="293.35" width="2.9" height="2.9"/>
<rect x="155.95" y="293.85" width="2.9" height="2.9"/>
<rect x="157.95" y="296.35" width="2.9" height="2.9"/>
<rect x="144.65" y="297.15" width="2.9" height="2.9"/>
<rect x="151.85" y="295.95" width="2.9" height="2.9"/>
<rect x="152.65" y="298.75" width="2.9" height="2.9"/>
<rect x="147.85" y="299.95" width="2.9" height="2.9"/>
<rect x="161.15" y="298.75" width="2.9" height="2.9"/>
<rect x="157.15" y="300.95" width="2.9" height="2.9"/>
<rect x="167.65" y="298.45" width="2.9" height="2.9"/>
<rect x="170.75" y="300.15" width="2.9" height="2.9"/>
<rect x="176.55" y="302.55" width="2.9" height="2.9"/>
<rect x="145.05" y="305.65" width="2.9" height="2.9"/>
<rect x="153.55" y="306.45" width="2.9" height="2.9"/>
<rect x="147.75" y="311.45" width="2.9" height="2.9"/>
<rect x="145.85" y="314.65" width="2.9" height="2.9"/>
<rect x="158.75" y="315.65" width="2.9" height="2.9"/>
<rect x="164.65" y="314.65" width="2.9" height="2.9"/>
<rect x="178.25" y="315.65" width="2.9" height="2.9"/>
<rect x="175.95" y="322.25" width="2.9" height="2.9"/>
<rect x="167.65" y="326.25" width="2.9" height="2.9"/>
<rect x="178.95" y="332.35" width="2.9" height="2.9"/>
<rect x="226.15" y="300.55" width="2.9" height="2.9"/>
<rect x="226.15" y="312.85" width="2.9" height="2.9"/>
<rect x="226.65" y="318.55" width="2.9" height="2.9"/>
<rect x="207.05" y="334.35" width="2.9" height="2.9"/>
<rect x="54.65" y="331.95" width="2.9" height="2.9"/>
<rect x="87.45" y="329.35" width="2.9" height="2.9"/>
<rect x="105.65" y="333.15" width="2.9" height="2.9"/>
<rect x="115.45" y="323.85" width="2.9" height="2.9"/>
<rect x="115.65" y="326.35" width="2.9" height="2.9"/>
<rect x="129.55" y="327.55" width="2.9" height="2.9"/>
<rect x="127.75" y="329.95" width="2.9" height="2.9"/>
<rect x="132.05" y="330.55" width="2.9" height="2.9"/>
<rect x="130.75" y="336.85" width="2.9" height="2.9"/>
<rect x="376.55" y="198.80" width="2.5" height="3.0"/>
<rect x="375.15" y="203.80" width="2.5" height="3.0"/>
<rect x="373.55" y="222.10" width="2.5" height="3.0"/>
<rect x="385.15" y="232.10" width="2.5" height="3.0"/>
<rect x="373.55" y="242.90" width="2.5" height="3.0"/>
<rect x="388.25" y="243.30" width="2.5" height="3.0"/>
<rect x="384.70" y="247.30" width="2.5" height="3.0"/>
<rect x="388.25" y="250.60" width="2.5" height="3.0"/>
<rect x="328.55" y="252.60" width="2.5" height="3.0"/>
<rect x="373.65" y="255.85" width="2.5" height="3.0"/>
<rect x="382.30" y="255.85" width="2.5" height="3.0"/>
<rect x="322.65" y="261.10" width="2.5" height="3.0"/>
<rect x="326.95" y="261.10" width="2.5" height="3.0"/>
<rect x="358.25" y="260.60" width="2.5" height="3.0"/>
<rect x="357.25" y="274.10" width="2.5" height="3.0"/>
<rect x="328.15" y="278.80" width="2.5" height="3.0"/>
<rect x="334.25" y="284.10" width="2.5" height="3.0"/>
<rect x="319.35" y="286.40" width="2.5" height="3.0"/>
<rect x="326.25" y="286.40" width="2.5" height="3.0"/>
<rect x="316.35" y="296.40" width="2.5" height="3.0"/>
<rect x="327.15" y="304.70" width="2.5" height="3.0"/>
<rect x="341.25" y="301.70" width="2.5" height="3.0"/>
<rect x="344.25" y="303.20" width="2.5" height="3.0"/>
<rect x="348.95" y="306.20" width="2.5" height="3.0"/>
<rect x="351.95" y="301.70" width="2.5" height="3.0"/>
<rect x="355.25" y="304.70" width="2.5" height="3.0"/>
<rect x="344.05" y="313.80" width="2.5" height="3.0"/>
<rect x="349.15" y="321.40" width="2.5" height="3.0"/>
<rect x="329.95" y="323.10" width="2.5" height="3.0"/>
<rect x="367.95" y="314.70" width="2.5" height="3.0"/>
<rect x="358.45" y="336.80" width="2.5" height="3.0"/>
<rect x="329.15" y="343.70" width="2.5" height="3.0"/>
<rect x="390.15" y="242.70" width="2.5" height="3.0"/>
<rect x="387.55" y="245.10" width="2.5" height="3.0"/>
<rect x="395.65" y="245.10" width="2.5" height="3.0"/>
<rect x="402.25" y="245.10" width="2.5" height="3.0"/>
<rect x="404.45" y="252.70" width="2.5" height="3.0"/>
<rect x="374.45" y="258.20" width="2.5" height="3.0"/>
<rect x="373.75" y="261.20" width="2.5" height="3.0"/>
<rect x="381.85" y="258.20" width="2.5" height="3.0"/>
<rect x="392.65" y="257.90" width="2.5" height="3.0"/>
<rect x="398.85" y="257.90" width="2.5" height="3.0"/>
<rect x="404.25" y="265.00" width="2.5" height="3.0"/>
<rect x="361.85" y="272.00" width="2.5" height="3.0"/>
<rect x="363.35" y="274.40" width="2.5" height="3.0"/>
<rect x="365.85" y="277.90" width="2.5" height="3.0"/>
<rect x="403.00" y="275.80" width="2.5" height="3.0"/>
<rect x="399.15" y="233.60" width="2.5" height="3.0"/>
<rect x="394.25" y="237.50" width="2.5" height="3.0"/>
<rect x="397.15" y="237.50" width="2.5" height="3.0"/>
<rect x="409.25" y="239.90" width="2.5" height="3.0"/>
<rect x="418.95" y="237.50" width="2.5" height="3.0"/>
<rect x="423.35" y="233.60" width="2.5" height="3.0"/>
<rect x="435.75" y="229.30" width="2.5" height="3.0"/>
<rect x="415.75" y="244.80" width="2.5" height="3.0"/>
<rect x="407.05" y="250.40" width="2.5" height="3.0"/>
<rect x="412.05" y="255.90" width="2.5" height="3.0"/>
<rect x="409.05" y="260.90" width="2.5" height="3.0"/>
<rect x="417.15" y="261.20" width="2.5" height="3.0"/>
<rect x="421.45" y="268.00" width="2.5" height="3.0"/>
<rect x="408.05" y="272.60" width="2.5" height="3.0"/>
<rect x="405.35" y="277.40" width="2.5" height="3.0"/>
<rect x="419.95" y="274.10" width="2.5" height="3.0"/>
<rect x="431.55" y="274.10" width="2.5" height="3.0"/>
<rect x="438.95" y="271.00" width="2.5" height="3.0"/>
<rect x="441.95" y="277.90" width="2.5" height="3.0"/>
<rect x="445.45" y="254.50" width="2.5" height="3.0"/>
<rect x="448.25" y="246.60" width="2.5" height="3.0"/>
<rect x="454.65" y="227.50" width="2.5" height="3.0"/>
<rect x="446.65" y="232.10" width="2.5" height="3.0"/>
<rect x="454.35" y="247.50" width="2.5" height="3.0"/>
<rect x="461.25" y="246.00" width="2.5" height="3.0"/>
<rect x="472.05" y="245.20" width="2.5" height="3.0"/>
<rect x="449.75" y="253.70" width="2.5" height="3.0"/>
<rect x="468.95" y="256.40" width="2.5" height="3.0"/>
<rect x="458.15" y="264.10" width="2.5" height="3.0"/>
<rect x="471.85" y="267.40" width="2.5" height="3.0"/>
<rect x="454.75" y="271.20" width="2.5" height="3.0"/>
<rect x="475.35" y="277.20" width="2.5" height="3.0"/>
<rect x="485.25" y="281.80" width="2.5" height="3.0"/>
<rect x="484.75" y="286.30" width="2.5" height="3.0"/>
<rect x="466.25" y="289.40" width="2.5" height="3.0"/>
<rect x="475.65" y="289.40" width="2.5" height="3.0"/>
<rect x="458.15" y="291.10" width="2.5" height="3.0"/>
<rect x="465.55" y="293.10" width="2.5" height="3.0"/>
<rect x="479.15" y="293.10" width="2.5" height="3.0"/>
<rect x="484.75" y="293.10" width="2.5" height="3.0"/>
<rect x="472.35" y="298.70" width="2.5" height="3.0"/>
<rect x="476.15" y="299.90" width="2.5" height="3.0"/>
<rect x="478.75" y="301.70" width="2.5" height="3.0"/>
<rect x="473.65" y="315.00" width="2.5" height="3.0"/>
<rect x="466.85" y="316.80" width="2.5" height="3.0"/>
<rect x="408.85" y="279.80" width="2.5" height="3.0"/>
<rect x="408.35" y="284.10" width="2.5" height="3.0"/>
<rect x="400.25" y="288.70" width="2.5" height="3.0"/>
<rect x="399.55" y="292.25" width="2.5" height="3.0"/>
<rect x="401.85" y="294.15" width="2.5" height="3.0"/>
<rect x="404.85" y="292.50" width="2.5" height="3.0"/>
<rect x="403.40" y="295.75" width="2.5" height="3.0"/>
<rect x="402.00" y="300.15" width="2.5" height="3.0"/>
<rect x="401.35" y="301.75" width="2.5" height="3.0"/>
<rect x="416.45" y="289.50" width="2.5" height="3.0"/>
<rect x="415.75" y="294.20" width="2.5" height="3.0"/>
<rect x="413.95" y="298.60" width="2.5" height="3.0"/>
<rect x="419.15" y="298.60" width="2.5" height="3.0"/>
<rect x="409.05" y="303.30" width="2.5" height="3.0"/>
<rect x="425.05" y="303.30" width="2.5" height="3.0"/>
<rect x="427.55" y="301.80" width="2.5" height="3.0"/>
<rect x="431.55" y="300.00" width="2.5" height="3.0"/>
<rect x="434.35" y="303.80" width="2.5" height="3.0"/>
<rect x="445.45" y="306.30" width="2.5" height="3.0"/>
<rect x="430.55" y="308.70" width="2.5" height="3.0"/>
<rect x="436.35" y="310.10" width="2.5" height="3.0"/>
<rect x="401.75" y="309.90" width="2.5" height="3.0"/>
<rect x="405.35" y="313.00" width="2.5" height="3.0"/>
<rect x="367.85" y="284.60" width="2.5" height="3.0"/>
<rect x="369.95" y="286.40" width="2.5" height="3.0"/>
<rect x="388.55" y="283.40" width="2.5" height="3.0"/>
<rect x="393.95" y="287.80" width="2.5" height="3.0"/>
<rect x="385.25" y="289.50" width="2.5" height="3.0"/>
<rect x="390.35" y="290.90" width="2.5" height="3.0"/>
<rect x="363.05" y="296.20" width="2.5" height="3.0"/>
<rect x="378.15" y="298.20" width="2.5" height="3.0"/>
<rect x="376.15" y="300.00" width="2.5" height="3.0"/>
<rect x="385.85" y="296.90" width="2.5" height="3.0"/>
<rect x="384.85" y="298.80" width="2.5" height="3.0"/>
<rect x="392.35" y="296.90" width="2.5" height="3.0"/>
<rect x="396.15" y="296.90" width="2.5" height="3.0"/>
<rect x="395.65" y="301.30" width="2.5" height="3.0"/>
<rect x="395.65" y="303.80" width="2.5" height="3.0"/>
<rect x="391.95" y="303.80" width="2.5" height="3.0"/>
<rect x="381.55" y="309.10" width="2.5" height="3.0"/>
<rect x="396.15" y="308.90" width="2.5" height="3.0"/>
<rect x="391.65" y="310.90" width="2.5" height="3.0"/>
<rect x="397.55" y="292.60" width="2.5" height="3.0"/>
<rect x="400.55" y="295.70" width="2.5" height="3.0"/>
<rect x="402.65" y="298.10" width="2.5" height="3.0"/>
<rect x="407.75" y="314.50" width="2.5" height="3.0"/>
<rect x="378.35" y="314.80" width="2.5" height="3.0"/>
<rect x="397.05" y="319.90" width="2.5" height="3.0"/>
<rect x="404.35" y="322.20" width="2.5" height="3.0"/>
<rect x="452.15" y="300.30" width="2.5" height="3.0"/>
<rect x="453.45" y="312.30" width="2.5" height="3.0"/>
<rect x="421.15" y="322.10" width="2.5" height="3.0"/>
<rect x="444.15" y="327.10" width="2.5" height="3.0"/>
</g>
</svg>
</body></html>
